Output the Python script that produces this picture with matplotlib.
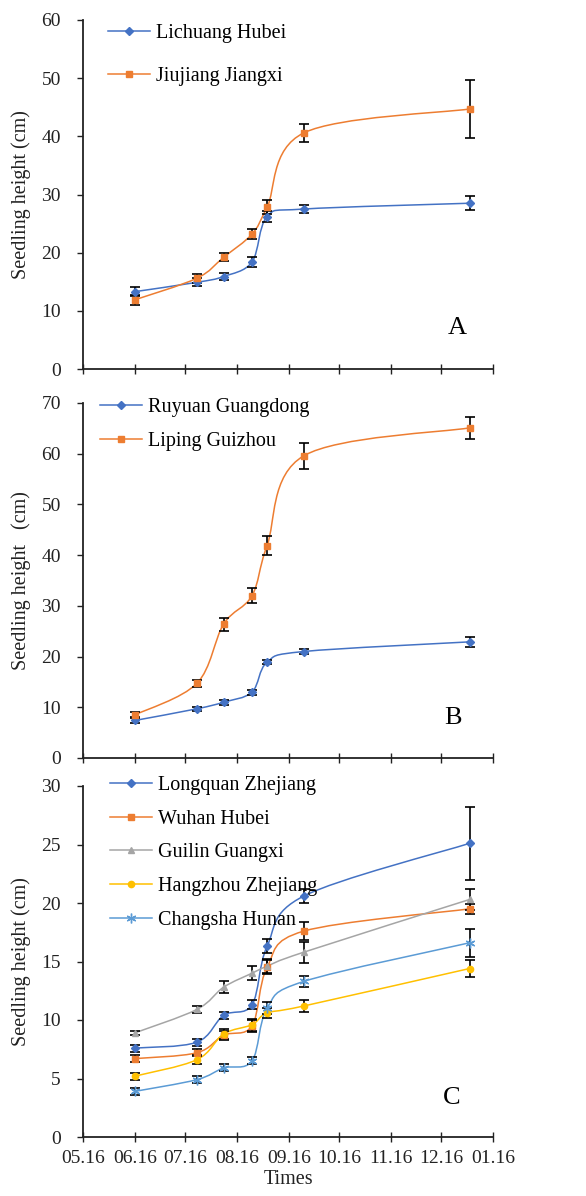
import matplotlib
matplotlib.use("Agg")
import matplotlib.pyplot as plt
import matplotlib.dates as mdates
from matplotlib.path import Path
from matplotlib.patches import PathPatch
from matplotlib.lines import Line2D
from datetime import date

plt.rcParams['font.family'] = ['Liberation Serif', 'DejaVu Serif']

# sampling dates (shared by all panels)
dates = [date(2015, 6, 16), date(2015, 7, 23), date(2015, 8, 8), date(2015, 8, 25),
         date(2015, 9, 3), date(2015, 9, 25), date(2016, 1, 2)]
tick_dates = [date(2015, m, 16) for m in range(5, 13)] + [date(2016, 1, 16)]

# panel A
lichuang = [13.3, 14.9, 15.9, 18.4, 26.2, 27.5, 28.5]
lichuang_err = [0.8, 0.7, 0.6, 0.9, 1.0, 0.7, 1.2]
jiujiang = [11.9, 15.6, 19.2, 23.2, 27.8, 40.6, 44.7]
jiujiang_err = [0.9, 0.8, 0.7, 0.9, 1.2, 1.5, 5.0]

# panel B
ruyuan = [7.4, 9.7, 11.0, 13.0, 18.9, 21.0, 22.9]
ruyuan_err = [0.5, 0.4, 0.5, 0.5, 0.4, 0.4, 1.0]
liping = [8.5, 14.7, 26.4, 32.0, 41.9, 59.6, 65.1]
liping_err = [0.5, 0.7, 1.3, 1.5, 1.9, 2.6, 2.2]

# panel C
longquan = [7.6, 8.1, 10.4, 11.3, 16.3, 20.6, 25.1]
longquan_err = [0.3, 0.3, 0.3, 0.4, 0.6, 0.6, 3.1]
wuhan = [6.7, 7.2, 8.7, 9.5, 14.5, 17.6, 19.5]
wuhan_err = [0.3, 0.3, 0.4, 0.5, 0.6, 0.8, 0.4]
guilin = [8.9, 10.9, 12.8, 14.0, 14.6, 15.8, 20.3]
guilin_err = [0.2, 0.3, 0.5, 0.6, 0.6, 0.9, 0.9]
hangzhou = [5.2, 6.6, 8.8, 9.6, 10.6, 11.2, 14.4]
hangzhou_err = [0.3, 0.4, 0.4, 0.5, 0.4, 0.5, 0.7]
changsha = [3.9, 4.9, 5.9, 6.5, 11.0, 13.3, 16.6]
changsha_err = [0.3, 0.3, 0.3, 0.3, 0.5, 0.5, 1.2]

BLUE, ORANGE, GRAY, YELLOW, LBLUE = "#4472C4", "#ED7D31", "#A5A5A5", "#FFC000", "#5B9BD5"
STAR = (6, 2, 0)
AXCOL = "#222222"

xs = mdates.date2num(dates)


def smooth_path(x, y):
    # Excel-like smoothed line: Catmull-Rom segments as cubic Beziers
    pts = list(zip(x, y))
    verts = [pts[0]]
    codes = [Path.MOVETO]
    n = len(pts)
    for i in range(n - 1):
        p0 = pts[max(i - 1, 0)]
        p1 = pts[i]
        p2 = pts[i + 1]
        p3 = pts[min(i + 2, n - 1)]
        c1 = (p1[0] + (p2[0] - p0[0]) / 6, p1[1] + (p2[1] - p0[1]) / 6)
        c2 = (p2[0] - (p3[0] - p1[0]) / 6, p2[1] - (p3[1] - p1[1]) / 6)
        verts += [c1, c2, p2]
        codes += [Path.CURVE4] * 3
    return Path(verts, codes)


def draw_series(ax, y, err, color, marker, ms):
    ax.add_patch(PathPatch(smooth_path(xs, y), facecolor="none", edgecolor=color, lw=1.1, zorder=2))
    ax.errorbar(xs, y, yerr=err, fmt="none", ecolor="black", elinewidth=1.2,
                capsize=3.5, capthick=1.2, zorder=3)
    ax.plot(xs, y, ls="none", marker=marker, ms=ms, color=color, mec=color, zorder=4)


def style_axis(ax, ymax, ystep, show_labels):
    ax.set_xlim(mdates.date2num(tick_dates[0]), mdates.date2num(tick_dates[-1]))
    ax.set_ylim(0, ymax)
    ax.set_yticks(range(0, ymax + 1, ystep))
    ax.set_xticks(mdates.date2num(tick_dates))
    ax.xaxis.set_major_formatter(mdates.DateFormatter("%m.%d"))
    ax.spines['top'].set_visible(False)
    ax.spines['right'].set_visible(False)
    for s in ('left', 'bottom'):
        ax.spines[s].set_linewidth(1.3)
        ax.spines[s].set_color(AXCOL)
    ax.tick_params(axis='y', direction='out', length=4, width=1, pad=12,
                   labelsize=14, colors=AXCOL)
    ax.tick_params(axis='x', direction='inout', length=7, width=1, pad=6,
                   labelsize=14, colors=AXCOL, labelbottom=show_labels)


fig = plt.figure(figsize=(5.86, 11.96), dpi=100)
left, width = 83 / 586, 410 / 586
axA = fig.add_axes([left, 1 - 369 / 1196, width, 349 / 1196])
axB = fig.add_axes([left, 1 - 758 / 1196, width, 355 / 1196])
axC = fig.add_axes([left, 1 - 1137 / 1196, width, 351 / 1196])

# panel A
draw_series(axA, lichuang, lichuang_err, BLUE, "D", 4)
draw_series(axA, jiujiang, jiujiang_err, ORANGE, "s", 4.5)
style_axis(axA, 60, 10, False)
axA.set_ylabel("Seedling height (cm)", fontsize=14.5, labelpad=7, color=AXCOL)
hA = [Line2D([], [], color=BLUE, marker="D", ms=4, lw=1.1),
      Line2D([], [], color=ORANGE, marker="s", ms=4.5, lw=1.1)]
axA.legend(hA, ["Lichuang Hubei", "Jiujiang Jiangxi"], loc="upper left",
           bbox_to_anchor=(0.061, 0.99), frameon=False, fontsize=14.5, borderpad=0,
           borderaxespad=0, handlelength=2.1, handletextpad=0.3, labelspacing=1.2, numpoints=1)
axA.text(0.912, 0.117, "A", transform=axA.transAxes, fontsize=19, ha="center", va="center")

# panel B
draw_series(axB, ruyuan, ruyuan_err, BLUE, "D", 4)
draw_series(axB, liping, liping_err, ORANGE, "s", 4.5)
style_axis(axB, 70, 10, False)
axB.set_ylabel("Seedling height   (cm)", fontsize=14.5, labelpad=7, color=AXCOL)
hB = [Line2D([], [], color=BLUE, marker="D", ms=4, lw=1.1),
      Line2D([], [], color=ORANGE, marker="s", ms=4.5, lw=1.1)]
axB.legend(hB, ["Ruyuan Guangdong", "Liping Guizhou"], loc="upper left",
           bbox_to_anchor=(0.041, 1.014), frameon=False, fontsize=14.5, borderpad=0,
           borderaxespad=0, handlelength=2.1, handletextpad=0.3, labelspacing=0.75, numpoints=1)
axB.text(0.902, 0.113, "B", transform=axB.transAxes, fontsize=19, ha="center", va="center")

# panel C
series_c = [
    ("Longquan Zhejiang", longquan, longquan_err, BLUE, "D", 4),
    ("Wuhan Hubei", wuhan, wuhan_err, ORANGE, "s", 4.5),
    ("Guilin Guangxi", guilin, guilin_err, GRAY, "^", 4.5),
    ("Hangzhou Zhejiang", hangzhou, hangzhou_err, YELLOW, "o", 4.5),
    ("Changsha Hunan", changsha, changsha_err, LBLUE, STAR, 7),
]
hC = []
for name, y, err, c, m, ms in series_c:
    draw_series(axC, y, err, c, m, ms)
    hC.append(Line2D([], [], color=c, marker=m, ms=ms, lw=1.1))
style_axis(axC, 30, 5, True)
axC.set_ylabel("Seedling height (cm)", fontsize=14.5, labelpad=7, color=AXCOL)
axC.set_xlabel("Times", fontsize=14.5, labelpad=2, color=AXCOL)
axC.legend(hC, [s[0] for s in series_c], loc="upper left",
           bbox_to_anchor=(0.066, 1.028), frameon=False, fontsize=14.5, borderpad=0,
           borderaxespad=0, handlelength=2.1, handletextpad=0.3, labelspacing=0.72, numpoints=1)
axC.text(0.9, 0.111, "C", transform=axC.transAxes, fontsize=19, ha="center", va="center")

fig.savefig("out.png", dpi=100, facecolor="white")
